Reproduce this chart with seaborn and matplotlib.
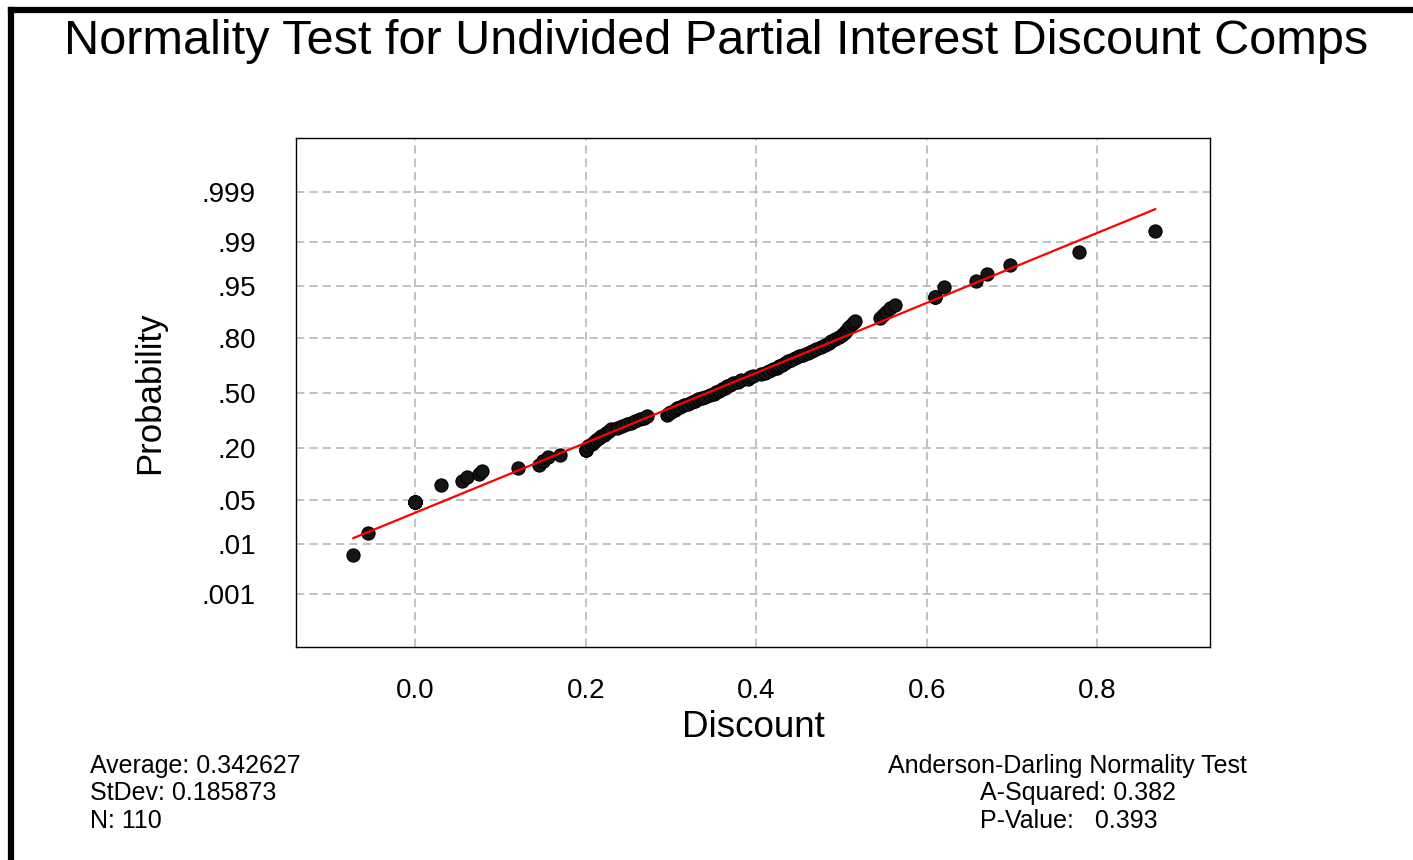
import numpy as np
import pandas as pd
import matplotlib
matplotlib.use("Agg")
import matplotlib.pyplot as plt
import seaborn as sns
from statistics import NormalDist
from matplotlib.lines import Line2D

# ---------------- data ----------------
title = "Normality Test for Undivided Partial Interest Discount Comps"

discount = [
    -0.073, -0.056, 0.000, 0.000, 0.000, 0.000, 0.000, 0.000, 0.030, 0.055,
    0.060, 0.075, 0.078, 0.120, 0.145, 0.150, 0.150, 0.155, 0.170, 0.200,
    0.200, 0.200, 0.203, 0.207, 0.210, 0.212, 0.215, 0.218, 0.221, 0.224,
    0.227, 0.230, 0.236, 0.242, 0.248, 0.253, 0.258, 0.263, 0.268, 0.272,
    0.295, 0.297, 0.300, 0.304, 0.307, 0.310, 0.315, 0.320, 0.325, 0.328,
    0.332, 0.336, 0.340, 0.345, 0.350, 0.353, 0.356, 0.360, 0.363, 0.366,
    0.369, 0.373, 0.378, 0.382, 0.390, 0.393, 0.396, 0.405, 0.410, 0.415,
    0.420, 0.424, 0.427, 0.430, 0.433, 0.437, 0.440, 0.445, 0.450, 0.455,
    0.460, 0.465, 0.470, 0.476, 0.481, 0.485, 0.488, 0.492, 0.497, 0.500,
    0.503, 0.505, 0.508, 0.510, 0.513, 0.516, 0.545, 0.548, 0.552, 0.557,
    0.562, 0.610, 0.610, 0.610, 0.620, 0.657, 0.670, 0.697, 0.778, 0.868,
]

prob_ticks = [0.001, 0.01, 0.05, 0.20, 0.50, 0.80, 0.95, 0.99, 0.999]
prob_labels = [".001", ".01", ".05", ".20", ".50", ".80", ".95", ".99", ".999"]
x_ticks = [0.0, 0.2, 0.4, 0.6, 0.8]
x_labels = ["0.0", "0.2", "0.4", "0.6", "0.8"]

average = 0.342627
stdev = 0.185873
n_obs = 110
a_squared = 0.382
p_value = 0.393

# ---------------- style ----------------
sns.set_style("white")
plt.rcParams['font.family'] = ['Liberation Sans', 'DejaVu Sans']
plt.rcParams['text.color'] = 'black'
plt.rcParams['axes.labelcolor'] = 'black'
plt.rcParams['xtick.color'] = 'black'
plt.rcParams['ytick.color'] = 'black'

nd = NormalDist()
df = pd.DataFrame({"Discount": discount})
ranks = df["Discount"].rank(method="average")
n = len(df)
df["z"] = [nd.inv_cdf((r - 0.3) / (n + 0.4)) for r in ranks]

fit_x = [min(discount), max(discount)]
fit = pd.DataFrame({"Discount": fit_x,
                    "z": [(v - average) / stdev for v in fit_x]})

W, H = 1413, 860
fig = plt.figure(figsize=(W / 100, H / 100), dpi=100)
fig.patch.set_facecolor("white")

ax = fig.add_axes([296 / W, 1 - 647 / H, 914 / W, 509 / H])
ax.set_axisbelow(True)
ax.grid(True, color="#b8b8b8", linestyle=(0, (5, 3)), linewidth=1.2)

sns.scatterplot(data=df, x="Discount", y="z", ax=ax, color="#151515",
                edgecolor="black", s=90, marker="o", linewidth=0.8,
                zorder=3, legend=False)
sns.lineplot(data=fit, x="Discount", y="z", ax=ax, color="red",
             linewidth=1.6, zorder=4)

ax.set_xlim(-0.140, 0.932)
ax.set_ylim(-3.91, 3.92)
ax.set_xticks(x_ticks)
ax.set_xticklabels(x_labels)
ax.set_yticks([nd.inv_cdf(p) for p in prob_ticks])
ax.set_yticklabels(prob_labels)
ax.tick_params(axis="both", length=0, labelsize=20, colors="black")
ax.tick_params(axis="y", pad=29)
ax.tick_params(axis="x", pad=22)
for sp in ax.spines.values():
    sp.set_color("black")
    sp.set_linewidth(1.0)

ax.set_xlabel("Discount", fontsize=26.5, va="center", color="black")
ax.xaxis.set_label_coords(0.5, -0.159)
ax.set_ylabel("Probability", fontsize=25, va="center", color="black")
ax.yaxis.set_label_coords(-0.160, 0.5)

fig.text(716 / W, 1 - 42 / H, title, ha="center", va="center",
         fontsize=35, color="black")

left_stats = [f"Average: {average:.6f}", f"StDev: {stdev:.6f}", f"N: {n_obs}"]
for i, s in enumerate(left_stats):
    fig.text(90 / W, 1 - (766 + 27.5 * i) / H, s, ha="left", va="center",
             fontsize=18, color="black")

fig.text(888 / W, 1 - 766 / H, "Anderson-Darling Normality Test",
         ha="left", va="center", fontsize=18, color="black")
fig.text(980 / W, 1 - 793 / H, f"A-Squared: {a_squared:.3f}",
         ha="left", va="center", fontsize=18, color="black")
fig.text(980 / W, 1 - 821 / H, f"P-Value:   {p_value:.3f}",
         ha="left", va="center", fontsize=18, color="black")

# outer frame (top and left edges)
fig.add_artist(Line2D([11.5 / W, 11.5 / W], [0, 1 - 9.5 / H],
                      transform=fig.transFigure, color="black", lw=4.5,
                      solid_capstyle="projecting"))
fig.add_artist(Line2D([11.5 / W, 1], [1 - 9.5 / H, 1 - 9.5 / H],
                      transform=fig.transFigure, color="black", lw=4.5,
                      solid_capstyle="projecting"))

fig.savefig("out.png", dpi=100, facecolor="white")
